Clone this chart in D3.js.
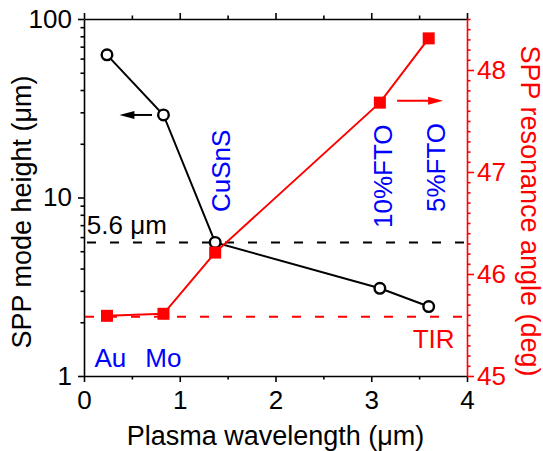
<!DOCTYPE html>
<html>
<head>
<meta charset="utf-8">
<script src="https://cdn.jsdelivr.net/npm/d3@7"></script>
<style>
  html, body { margin: 0; padding: 0; background: #fff; }
  svg { display: block; font-family: "Liberation Sans", Arial, sans-serif; }
</style>
</head>
<body>
<div id="chart"></div>
<script>
// values
const materials = ['Au', 'Mo', 'CuSnS', '10%FTO', '5%FTO'];
const plasmaWavelength = [0.24, 0.83, 1.37, 3.09, 3.60];
const modeHeight = [63, 29, 5.6, 3.1, 2.45];
const resonanceAngle = [45.59, 45.61, 46.21, 47.68, 48.31];
const tirAngle = 45.58;
const cutoffHeight = 5.6;

const xTicks = [0, 1, 2, 3, 4];
const xMinor = [0.5, 1.5, 2.5, 3.5];
const leftTicks = [1, 10, 100];
const rightTicks = [45, 46, 47, 48];

const width = 543;
const height = 451;
const margin = { top: 19, right: 76, bottom: 75, left: 84 };
const innerWidth = width - margin.left - margin.right;
const innerHeight = height - margin.top - margin.bottom;

const RED = '#ff0000';
const BLUE = '#0000ff';

const svg = d3.select('#chart')
  .append('svg')
  .attr('width', width)
  .attr('height', height);

const g = svg.append('g').attr('transform', `translate(${margin.left},${margin.top})`);

const x = d3.scaleLinear().domain([0, 4]).range([0, innerWidth]);
const yL = d3.scaleLog().domain([1, 100]).range([innerHeight, 0]);
const yR = d3.scaleLinear().domain([45, 48.5]).range([innerHeight, 0]);

const leftMinor = [];
[1, 10].forEach((b) => { for (let k = 2; k <= 9; k++) leftMinor.push(b * k); });
const rightMinor = d3.range(45, 48.51, 0.1).map((v) => +v.toFixed(1)).filter((v) => !rightTicks.includes(v));

function styleAxis(sel, color) {
  sel.selectAll('path, line').attr('stroke', color).attr('stroke-width', 1.6);
  sel.selectAll('text').filter(function () { return !this.textContent; }).remove();
  sel.selectAll('text').attr('fill', color).attr('font-size', 26)
    .attr('font-family', '"Liberation Sans", Arial, sans-serif');
  sel.attr('font-family', null).attr('font-size', null);
}

// bottom axis
const bottomAxis = g.append('g').attr('transform', `translate(0,${innerHeight})`)
  .call(d3.axisBottom(x).tickValues(xTicks).tickSize(6).tickPadding(8.5).tickSizeOuter(0).tickFormat(d3.format('d')));
styleAxis(bottomAxis, '#000');
const bottomMinor = g.append('g').attr('transform', `translate(0,${innerHeight})`)
  .call(d3.axisBottom(x).tickValues(xMinor).tickSize(3.5).tickFormat(''));
bottomMinor.select('.domain').remove();
styleAxis(bottomMinor, '#000');

// top axis (mirror)
const topAxis = g.append('g')
  .call(d3.axisTop(x).tickValues(xTicks).tickSize(6).tickSizeOuter(0).tickFormat(''));
styleAxis(topAxis, '#000');
const topMinor = g.append('g')
  .call(d3.axisTop(x).tickValues(xMinor).tickSize(3.5).tickFormat(''));
topMinor.select('.domain').remove();
styleAxis(topMinor, '#000');

// left log axis
const leftAxis = g.append('g')
  .call(d3.axisLeft(yL).tickValues(leftTicks).tickSize(6).tickPadding(6).tickSizeOuter(0).tickFormat(d3.format('d')));
styleAxis(leftAxis, '#000');
const leftMin = g.append('g')
  .call(d3.axisLeft(yL).tickValues(leftMinor).tickSize(3.5).tickFormat(''));
leftMin.select('.domain').remove();
styleAxis(leftMin, '#000');

// right axis
const rightAxis = g.append('g').attr('transform', `translate(${innerWidth},0)`)
  .call(d3.axisRight(yR).tickValues(rightTicks).tickSize(7).tickPadding(3).tickSizeOuter(0).tickFormat(d3.format('d')));
styleAxis(rightAxis, RED);
const rightMin = g.append('g').attr('transform', `translate(${innerWidth},0)`)
  .call(d3.axisRight(yR).tickValues(rightMinor).tickSize(3.5).tickFormat(''));
rightMin.select('.domain').remove();
styleAxis(rightMin, RED);

// reference lines
g.append('line')
  .attr('x1', x(0)).attr('x2', x(4))
  .attr('y1', yL(cutoffHeight)).attr('y2', yL(cutoffHeight))
  .attr('stroke', '#000').attr('stroke-width', 2)
  .attr('stroke-dasharray', '9,14').attr('stroke-dashoffset', -3);

g.append('line')
  .attr('x1', x(0)).attr('x2', x(4))
  .attr('y1', yR(tirAngle)).attr('y2', yR(tirAngle))
  .attr('stroke', RED).attr('stroke-width', 2)
  .attr('stroke-dasharray', '9,14').attr('stroke-dashoffset', -1);

// mode height series
const heightData = plasmaWavelength.map((w, i) => ({ w, v: modeHeight[i] }));
g.append('path')
  .datum(heightData)
  .attr('fill', 'none').attr('stroke', '#000').attr('stroke-width', 2)
  .attr('d', d3.line().x((d) => x(d.w)).y((d) => yL(d.v)));
g.selectAll('circle.h')
  .data(heightData)
  .join('circle')
  .attr('class', 'h')
  .attr('cx', (d) => x(d.w)).attr('cy', (d) => yL(d.v))
  .attr('r', 5.3).attr('fill', '#fff').attr('stroke', '#000').attr('stroke-width', 2.4);

// resonance angle series
const angleData = plasmaWavelength.map((w, i) => ({ w, v: resonanceAngle[i] }));
g.append('path')
  .datum(angleData)
  .attr('fill', 'none').attr('stroke', RED).attr('stroke-width', 2)
  .attr('d', d3.line().x((d) => x(d.w)).y((d) => yR(d.v)));
g.selectAll('rect.a')
  .data(angleData)
  .join('rect')
  .attr('class', 'a')
  .attr('x', (d) => x(d.w) - 6).attr('y', (d) => yR(d.v) - 6)
  .attr('width', 12).attr('height', 12).attr('fill', RED);

// arrows
function arrow(x1, x2, yy, color) {
  const dir = Math.sign(x2 - x1);
  g.append('line')
    .attr('x1', x1).attr('x2', x2 - dir * 12).attr('y1', yy).attr('y2', yy)
    .attr('stroke', color).attr('stroke-width', 2);
  g.append('path')
    .attr('d', `M${x2},${yy} L${x2 - dir * 15},${yy - 4} L${x2 - dir * 15},${yy + 4} Z`)
    .attr('fill', color);
}
arrow(x(0.71), x(0.37), yL(modeHeight[1]), '#000');
arrow(x(3.27), x(3.75), yR(resonanceAngle[3]) - 2, RED);

// material labels
const labelFont = 26;
g.append('text').attr('x', x(0.11)).attr('y', innerHeight - 9)
  .attr('font-size', labelFont).attr('fill', BLUE).text(materials[0]);
g.append('text').attr('x', x(0.64)).attr('y', innerHeight - 9)
  .attr('font-size', labelFont).attr('fill', BLUE).text(materials[1]);

const vertLabels = [
  { t: materials[2], w: 1.53, y: 193 },
  { t: materials[3], w: 3.22, y: 209 },
  { t: materials[4], w: 3.77, y: 193 }
];
vertLabels.forEach((d) => {
  g.append('text')
    .attr('transform', `translate(${x(d.w)},${d.y}) rotate(-90)`)
    .attr('font-size', labelFont).attr('fill', BLUE).text(d.t);
});

g.append('text').attr('x', x(0.03)).attr('y', yL(cutoffHeight) - 8)
  .attr('font-size', 26).attr('fill', '#000').text('5.6 \u03bcm');
g.append('text').attr('x', x(3.87)).attr('y', yR(tirAngle) + 31)
  .attr('text-anchor', 'end')
  .attr('font-size', labelFont).attr('fill', RED).text('TIR');

// axis titles
svg.append('text')
  .attr('x', margin.left + innerWidth / 2).attr('y', 445)
  .attr('text-anchor', 'middle').attr('font-size', 27).attr('fill', '#000')
  .text('Plasma wavelength (\u03bcm)');
svg.append('text')
  .attr('transform', `translate(31,212) rotate(-90)`)
  .attr('text-anchor', 'middle').attr('font-size', 27).attr('fill', '#000')
  .text('SPP mode height (\u03bcm)');
svg.append('text')
  .attr('transform', `translate(521,211) rotate(90)`)
  .attr('text-anchor', 'middle').attr('font-size', 27).attr('fill', RED)
  .text('SPP resonance angle (deg)');
</script>
</body>
</html>
